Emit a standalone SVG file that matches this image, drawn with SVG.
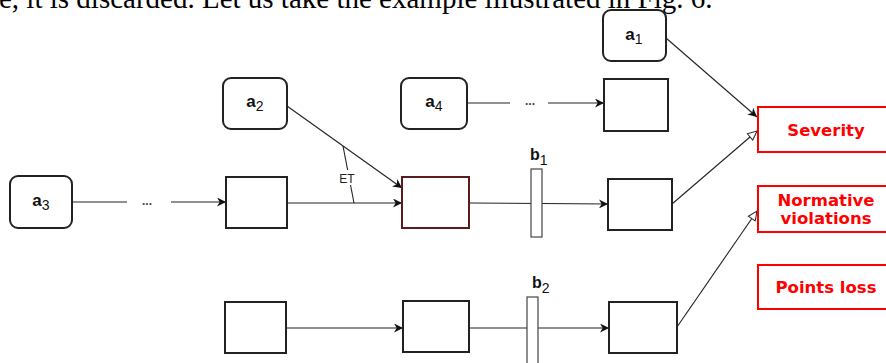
<svg xmlns="http://www.w3.org/2000/svg" width="886" height="363" viewBox="0 0 886 363">
<style>
.box{fill:#fff;stroke:#222;stroke-width:2}
.rnd{fill:#fff;stroke:#222;stroke-width:2}
.bar{fill:#fff;stroke:#444;stroke-width:1.2}
.red{fill:#fff;stroke:#ff0000;stroke-width:2}
.rt{font-family:"DejaVu Sans",Verdana,sans-serif;font-weight:bold;font-size:16.5px;fill:#ff0000;text-anchor:middle}
.lbl{font-family:"Liberation Sans",Arial,sans-serif;font-weight:bold;font-size:17px;fill:#111;text-anchor:middle}
.bl{font-family:"Liberation Sans",Arial,sans-serif;font-weight:bold;font-size:16px;fill:#111}
.sub{font-weight:normal;font-size:14px}
.c{fill:none;stroke:#222;stroke-width:1.1}
.dots{font-family:"Liberation Sans",Arial,sans-serif;font-size:12px;font-weight:bold;fill:#444;text-anchor:middle}
.et{font-family:"Liberation Sans",Arial,sans-serif;font-size:12px;fill:#222;text-anchor:middle}
.para{font-family:"Liberation Serif","Times New Roman",serif;font-size:29px;fill:#000}
</style>
<defs>
<marker id="arr" viewBox="0 0 10 10" refX="10" refY="5" markerWidth="10" markerHeight="9" markerUnits="userSpaceOnUse" orient="auto">
<path d="M0,0 L10,5 L0,10 L3,5 z" fill="#111"/>
</marker>
<marker id="open" viewBox="0 0 12 12" refX="11" refY="6" markerWidth="11" markerHeight="11" markerUnits="userSpaceOnUse" orient="auto">
<path d="M1,1.5 L11,6 L1,10.5 z" fill="#fff" stroke="#333" stroke-width="1.2"/>
</marker>
</defs>
<text class="para" x="-1" y="7.5">e, it is discarded. Let us take the example illustrated in Fig. 6.</text>
<g id="connectors">
<line class="c" x1="72" y1="202" x2="127" y2="202"/>
<text class="dots" x="147" y="205">...</text>
<line class="c" x1="171" y1="202" x2="226" y2="202" marker-end="url(#arr)"/>
<line class="c" x1="287" y1="203" x2="402" y2="203" marker-end="url(#arr)"/>
<line class="c" x1="287" y1="106" x2="402" y2="188" marker-end="url(#arr)"/>
<line class="c" x1="343" y1="146" x2="354" y2="203"/>
<rect x="338" y="170" width="19" height="15" fill="#fff"/>
<text class="et" x="347" y="183">ET</text>
<line class="c" x1="469" y1="203" x2="608" y2="204" marker-end="url(#arr)"/>
<line class="c" x1="467" y1="103" x2="510" y2="103"/>
<text class="dots" x="530" y="105">...</text>
<line class="c" x1="548" y1="103" x2="604" y2="103" marker-end="url(#arr)"/>
<line class="c" x1="666" y1="38" x2="757" y2="117" marker-end="url(#arr)"/>
<line class="c" x1="672" y1="204" x2="757" y2="131" marker-end="url(#open)"/>
<line class="c" x1="286" y1="328" x2="403" y2="328" marker-end="url(#arr)"/>
<line class="c" x1="469" y1="328" x2="609" y2="328" marker-end="url(#arr)"/>
<line class="c" x1="677" y1="327" x2="757" y2="211" marker-end="url(#open)"/>
</g>
<g id="a1"><rect class="rnd" x="603" y="10" width="63" height="51" rx="8"/><text class="lbl" x="634" y="40">a<tspan class="sub" dy="4">1</tspan></text></g>
<g id="a2"><rect class="rnd" x="223" y="78" width="64" height="51" rx="8"/><text class="lbl" x="255" y="107">a<tspan class="sub" dy="4">2</tspan></text></g>
<g id="a3"><rect class="rnd" x="10" y="176" width="62" height="52" rx="8"/><text class="lbl" x="41" y="206">a<tspan class="sub" dy="4">3</tspan></text></g>
<g id="a4"><rect class="rnd" x="401" y="78" width="66" height="51" rx="8"/><text class="lbl" x="434" y="107">a<tspan class="sub" dy="4">4</tspan></text></g>
<g id="box_r1"><rect class="box" x="604" y="79" width="64" height="52"/></g>
<g id="box_m1"><rect class="box" x="226" y="177" width="61" height="51"/></g>
<g id="box_m2"><rect class="box" x="402" y="177" width="67" height="51" style="stroke:#5a1c1c"/></g>
<g id="box_m3"><rect class="box" x="608" y="179" width="64" height="51"/></g>
<g id="box_l1"><rect class="box" x="225" y="302" width="61" height="51"/></g>
<g id="box_l2"><rect class="box" x="403" y="301" width="66" height="51"/></g>
<g id="box_l3"><rect class="box" x="609" y="302" width="68" height="51"/></g>
<g id="b1"><rect class="bar" x="531" y="169" width="11" height="68"/><text class="bl" x="530" y="160">b<tspan class="sub" dy="5">1</tspan></text></g>
<g id="b2"><rect class="bar" x="527" y="297" width="11" height="72"/><text class="bl" x="532" y="288">b<tspan class="sub" dy="5">2</tspan></text></g>
<g id="severity"><rect class="red" x="758" y="107" width="136" height="45"/><text class="rt" x="826" y="136">Severity</text></g>
<g id="normative"><rect class="red" x="758" y="186" width="136" height="46"/><text class="rt" x="826" y="206">Normative</text><text class="rt" x="826" y="224">violations</text></g>
<g id="points"><rect class="red" x="758" y="265" width="136" height="44"/><text class="rt" x="826" y="293">Points loss</text></g>
</svg>
